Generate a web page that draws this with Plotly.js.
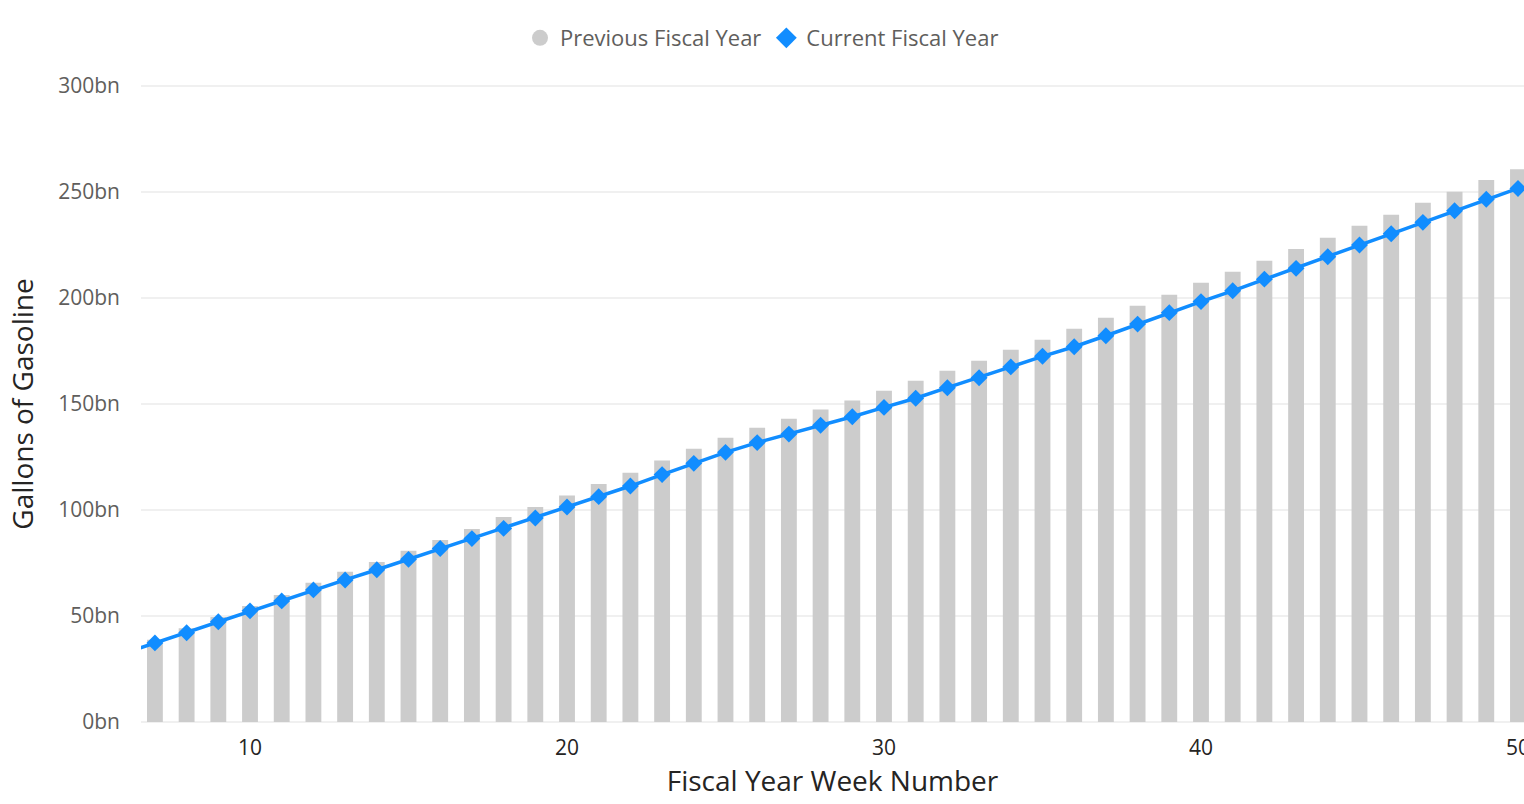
<!DOCTYPE html>
<html>
<head>
<meta charset="utf-8">
<script src="https://cdn.plot.ly/plotly-3.0.1.min.js"></script>
<style>
html,body{margin:0;padding:0;background:#fff;}
#chart{width:1524px;height:804px;}
</style>
</head>
<body>
<div id="chart"></div>
<script>
// Fiscal year week numbers
const weeks = [6,7,8,9,10,11,12,13,14,15,16,17,18,19,20,21,22,23,24,25,26,27,28,29,30,31,32,33,34,35,36,37,38,39,40,41,42,43,44,45,46,47,48,49,50];
// Previous fiscal year, cumulative gallons (bn)
const previousFY = [34.0,38.8,44.2,49.5,54.7,59.9,65.7,70.8,75.5,80.8,85.8,91.0,96.7,101.4,106.8,112.3,117.6,123.3,128.9,134.1,138.8,143.1,147.4,151.6,156.3,161.0,165.7,170.4,175.6,180.3,185.5,190.7,196.4,201.6,207.2,212.4,217.6,223.1,228.4,234.1,239.3,245.0,250.1,255.7,260.8];
// Current fiscal year, cumulative gallons (bn)
const currentFY = [32.3,37.3,42.1,47.3,52.4,57.1,62.3,67.0,71.8,76.7,81.8,86.5,91.3,96.2,101.4,106.3,111.3,116.7,122.0,127.2,131.8,135.8,140.0,144.0,148.4,152.7,157.7,162.4,167.5,172.5,177.0,182.2,187.7,193.1,198.3,203.4,208.9,214.0,219.5,225.0,230.3,235.7,241.2,246.6,251.7];
const xTickVals = [10, 20, 30, 40, 50];
const seriesNames = ["Previous Fiscal Year", "Current Fiscal Year"];
const xTitle = "Fiscal Year Week Number";
const yTitle = "Gallons of Gasoline";

const GRAY = "#cccccc";
const BLUE = "#118dff";
const FONT = "'Segoe UI', 'Open Sans', 'Noto Sans', sans-serif";

const traces = [
  {
    type: "bar", x: weeks, y: previousFY, name: seriesNames[0],
    marker: {color: GRAY}, width: 0.5, showlegend: false
  },
  {
    type: "scatter", mode: "lines+markers", x: weeks, y: currentFY, name: seriesNames[1],
    line: {color: BLUE, width: 3.5}, marker: {color: BLUE, symbol: "diamond", size: 13},
    showlegend: false, cliponaxis: true
  },
  // legend-only entries
  {type: "scatter", mode: "markers", x: [null], y: [null], name: seriesNames[0],
   marker: {color: GRAY, symbol: "circle", size: 20}},
  {type: "scatter", mode: "markers", x: [null], y: [null], name: seriesNames[1],
   marker: {color: BLUE, symbol: "diamond", size: 16}}
];

const layout = {
  width: 1524, height: 804,
  margin: {l: 141, r: 0, t: 85, b: 81},
  paper_bgcolor: "#ffffff", plot_bgcolor: "#ffffff",
  font: {family: FONT, color: "#605e5c"},
  showlegend: true,
  legend: {
    orientation: "h", x: 0.5, xref: "container", xanchor: "center",
    y: 1 - 38 / 804, yref: "container", yanchor: "middle",
    font: {size: 22, color: "#605e5c", family: FONT},
    itemwidth: 30, tracegroupgap: 0, traceorder: "normal"
  },
  xaxis: {
    range: [6.561, 50.19],
    tickvals: xTickVals,
    ticks: "", showgrid: false, zeroline: false, showline: false,
    tickfont: {size: 21, color: "#252423", family: FONT},
    ticklabelstandoff: 10, ticklabeloverflow: "allow",
    title: {text: xTitle, font: {size: 28, color: "#252423", family: FONT}, standoff: 10}
  },
  yaxis: {
    range: [-0.5, 300.5], dtick: 50, ticksuffix: "bn",
    showgrid: true, gridcolor: "#f0f0f0", gridwidth: 1.5,
    zeroline: false, showline: false, ticks: "",
    tickfont: {size: 21, color: "#605e5c", family: FONT},
    ticklabelstandoff: 20,
    title: {text: yTitle, font: {size: 28, color: "#252423", family: FONT}, standoff: 16}
  }
};

Plotly.newPlot("chart", traces, layout, {displayModeBar: false, staticPlot: true});
</script>
</body>
</html>
